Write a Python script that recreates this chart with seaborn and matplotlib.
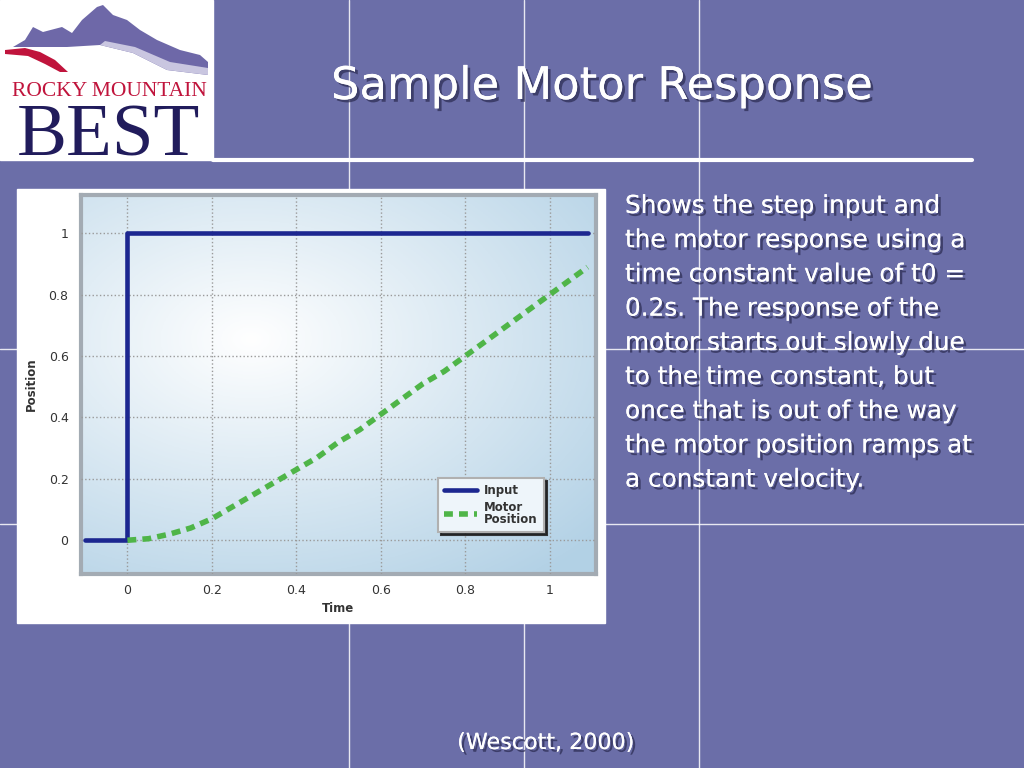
import numpy as np
import seaborn as sns
import matplotlib.pyplot as plt
import matplotlib.patheffects as pe
from matplotlib.patches import Rectangle, Polygon
from matplotlib.lines import Line2D

# step input
input_time = [-0.1, 0.0, 0.0, 1.09]
input_pos = [0.0, 0.0, 1.0, 1.0]

# motor position
motor_time = [0.0, 0.05, 0.1, 0.15, 0.2, 0.25, 0.3, 0.35, 0.4, 0.45, 0.5, 0.55,
              0.6, 0.65, 0.7, 0.75, 0.8, 0.85, 0.9, 0.95, 1.0, 1.05, 1.09]
motor_pos = [0.0, 0.005, 0.02, 0.04, 0.07, 0.11, 0.15, 0.19, 0.23, 0.27, 0.32, 0.36,
             0.41, 0.46, 0.51, 0.55, 0.60, 0.65, 0.70, 0.75, 0.80, 0.85, 0.89]

tick_vals = [0, 0.2, 0.4, 0.6, 0.8, 1]
tick_labels = ["0", "0.2", "0.4", "0.6", "0.8", "1"]

body_lines = [
    "Shows the step input and",
    "the motor response using a",
    "time constant value of t0 =",
    "0.2s. The response of the",
    "motor starts out slowly due",
    "to the time constant, but",
    "once that is out of the way",
    "the motor position ramps at",
    "a constant velocity.",
]

W, H = 1024, 768


def fx(x):
    return x / W


def fy(y):
    return 1 - y / H


sns.set_style("white")
plt.rcParams['font.family'] = ['DejaVu Sans']

fig = plt.figure(figsize=(10.24, 7.68), dpi=100)
bg = '#6b6ea8'
fig.patch.set_facecolor(bg)

# slide grid lines
for x in [349, 524, 699]:
    fig.add_artist(Line2D([fx(x), fx(x)], [0, 1], color='white', lw=1, alpha=0.85, zorder=0))
for y in [349, 524]:
    fig.add_artist(Line2D([0, 1], [fy(y), fy(y)], color='white', lw=1, alpha=0.85, zorder=0))

# title underline
fig.add_artist(Line2D([fx(213), fx(972)], [fy(160), fy(160)], color='white', lw=3, zorder=1))

# logo
fig.add_artist(Rectangle((0, fy(160)), fx(213), 160 / H, color='white', zorder=2))
mountain = [(13, 47), (25, 40), (33, 27), (43, 32), (62, 27), (72, 33), (82, 20), (97, 7),
            (103, 5), (113, 15), (127, 20), (140, 30), (157, 40), (180, 50), (200, 55),
            (208, 62), (208, 75), (167, 70), (133, 53), (100, 45), (67, 47), (33, 47)]
fig.add_artist(Polygon([(fx(a), fy(b)) for a, b in mountain], closed=True,
                       facecolor='#6e68a8', edgecolor='none', zorder=3))
ridge = [(100, 45), (133, 53), (167, 70), (208, 75), (208, 68), (170, 62), (135, 47), (105, 41)]
fig.add_artist(Polygon([(fx(a), fy(b)) for a, b in ridge], closed=True,
                       facecolor='#c9c6e0', edgecolor='none', zorder=3))
swoosh = [(5, 50), (25, 48), (40, 52), (55, 60), (68, 72), (60, 72), (45, 64), (28, 56), (5, 54)]
fig.add_artist(Polygon([(fx(a), fy(b)) for a, b in swoosh], closed=True,
                       facecolor='#c0143c', edgecolor='none', zorder=3))
fig.text(fx(109), fy(96), "ROCKY MOUNTAIN", family='Liberation Serif', fontsize=15.5,
         color='#c0143c', ha='center', va='baseline', zorder=4)
fig.text(fx(108), fy(156), "BEST", family='Liberation Serif', fontsize=54,
         color='#211c5c', ha='center', va='baseline', zorder=4)

shadow = [pe.withSimplePatchShadow(offset=(2, -2), shadow_rgbFace='#2a2a50', alpha=0.7), pe.Normal()]

fig.text(fx(331), fy(99), "Sample Motor Response", fontsize=32.3, color='white',
         ha='left', va='baseline', path_effects=shadow)

for i, line in enumerate(body_lines):
    fig.text(fx(625), fy(213 + 34.2 * i), line, fontsize=17.8, color='white',
             ha='left', va='baseline', path_effects=shadow)

fig.text(fx(546), fy(749), "(Wescott, 2000)", fontsize=16, color='white',
         ha='center', va='baseline', path_effects=shadow)

# chart card
fig.add_artist(Rectangle((fx(17), fy(623)), fx(605 - 17), (623 - 189) / H,
                         color='white', zorder=1))

ax = fig.add_axes([fx(81), fy(574), fx(596 - 81), (574 - 195) / H])
ax.set_zorder(2)

# soft blue background shading
gx, gy = np.meshgrid(np.linspace(0, 1, 200), np.linspace(0, 1, 200))
d = np.clip(np.hypot((gx - 0.33) / 0.9, (gy - 0.62) / 0.8), 0, 1)
edge = np.array([0.70, 0.82, 0.90])
shade = 1 - d[..., None] * (1 - edge)
ax.imshow(shade, extent=[0, 1, 0, 1], transform=ax.transAxes, aspect='auto',
          origin='lower', zorder=0)

sns.lineplot(x=input_time, y=input_pos, ax=ax, estimator=None, sort=False,
             color='#1c2790', lw=3.3, label='Input', zorder=3)
sns.lineplot(x=motor_time, y=motor_pos, ax=ax, estimator=None, sort=False,
             color='#4fb548', lw=4, label='Motor\nPosition', zorder=3)
ax.lines[-1].set_dashes((1.6, 1.1))

ax.set_xlim(-0.11, 1.11)
ax.set_ylim(-0.11, 1.125)
ax.set_xticks(tick_vals)
ax.set_xticklabels(tick_labels)
ax.set_yticks(tick_vals)
ax.set_yticklabels(tick_labels)
ax.grid(True, color='#9a9a9a', linestyle=':', lw=1)
ax.set_axisbelow(False)
for gl in ax.get_xgridlines() + ax.get_ygridlines():
    gl.set_zorder(1)
ax.tick_params(length=0, labelsize=9, labelcolor='#333333', pad=7)
ax.tick_params(axis='y', pad=9)
for s in ax.spines.values():
    s.set_color('#a3abb3')
    s.set_linewidth(3)

ax.set_xlabel("Time", fontsize=8.5, fontweight='bold', color='#333333', labelpad=4)
ax.set_ylabel("Position", fontsize=8.5, fontweight='bold', color='#333333', labelpad=8)

leg = ax.legend(loc='lower right', bbox_to_anchor=(0.91, 0.095), fontsize=8.5,
                frameon=True, fancybox=False, shadow={'color': '#222222', 'alpha': 0.9},
                handlelength=2.8, borderpad=0.5, labelspacing=0.3, handletextpad=0.6)
leg.get_frame().set_edgecolor('#b0b0b0')
leg.get_frame().set_linewidth(1.5)
leg.get_frame().set_facecolor('#eef5fa')
for t in leg.get_texts():
    t.set_fontweight('bold')
    t.set_color('#333333')
    t.set_linespacing(0.95)

fig.savefig("out.png", dpi=100, facecolor=fig.get_facecolor())
